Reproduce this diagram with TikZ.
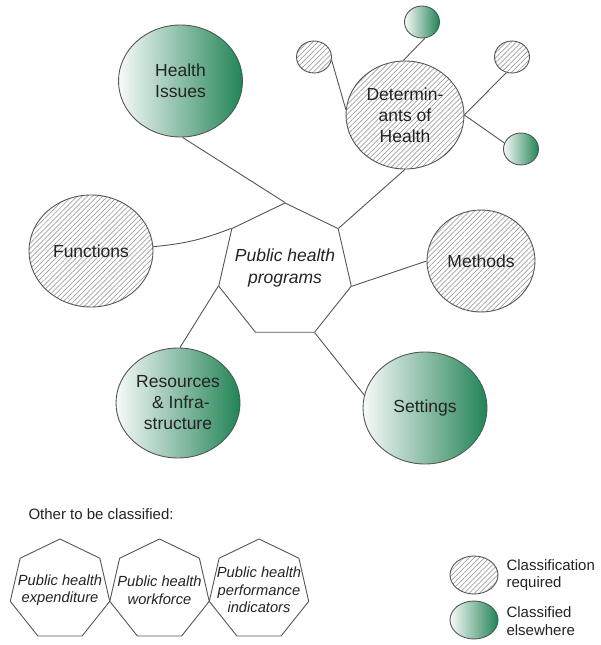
\documentclass[tikz,border=0pt]{standalone}
\usepackage{fontspec}
\setmainfont{Liberation Sans}
\usetikzlibrary{shapes.geometric,patterns.meta}

\definecolor{phgreen}{RGB}{34,132,86}
\definecolor{edgegray}{RGB}{85,85,85}
\definecolor{textgray}{RGB}{35,35,35}

\tikzset{
  blob/.style={ellipse, draw=edgegray, line width=0.9pt, inner sep=0pt, text=textgray, align=center, font=\fontsize{17.5}{21}\selectfont},
  hatched/.style={pattern={Lines[angle=45,distance=3.6pt,line width=0.7pt]}, pattern color=gray!75},
  greenfill/.style={left color=phgreen!4, right color=phgreen},
  bigblob/.style={blob, minimum width=124pt, minimum height=112pt},
  tinyblob/.style={blob, minimum width=35pt, minimum height=32pt},
  keyblob/.style={blob, minimum width=48pt, minimum height=38pt},
  hept/.style={regular polygon, regular polygon sides=7, draw=edgegray, line width=0.9pt, inner sep=0pt},
  hepttext/.style={text=textgray, align=center, font=\itshape\fontsize{14.7}{17.5}\selectfont},
  conn/.style={draw=edgegray, line width=0.9pt},
}

\begin{document}
\begin{tikzpicture}[x=1pt, y=-1pt]
\useasboundingbox (0,0) rectangle (600,645);

% centre
\node[hept, minimum size=136pt] (prog) at (285,271) {};
\node[hepttext, font=\itshape\fontsize{17.5}{22}\selectfont] (progtxt) at (285,268) {Public health\\programs};

% classes round the centre
\node[bigblob, greenfill] (issues) at (180.5,81) {Health\\Issues};
\node[bigblob, hatched, minimum width=118pt, minimum height=108pt] (det) at (405,115) {Determin-\\ants of\\Health};
\node[bigblob, hatched] (functions) at (91,251) {Functions};
\node[bigblob, hatched, minimum width=108pt, minimum height=102pt] (methods) at (481,261) {Methods};
\node[bigblob, greenfill] (settings) at (425,408) {Settings};
\node[bigblob, greenfill, minimum height=110pt] (resources) at (178,403) {Resources\\\,\,\& Infra-\\structure};

% sub-classes of determinants
\node[tinyblob, hatched] (detA) at (314,57) {};
\node[tinyblob, greenfill] (detB) at (422,22) {};
\node[tinyblob, hatched] (detC) at (512,57) {};
\node[tinyblob, greenfill] (detD) at (521,149) {};

\draw[conn] (issues.-88) -- (prog.corner 1);
\draw[conn] (functions.4) to[bend right=8] (prog.corner 2);
\draw[conn] (det.-90) -- (prog.corner 7);
\draw[conn] (prog.corner 6) -- (methods.180);
\draw[conn] (prog.corner 5) -- (settings.168);
\draw[conn] (prog.corner 3) -- (resources.88);

\draw[conn] (detA.-10) -- (det.175);
\draw[conn] (detB.-80) -- (det.92);
\draw[conn] (detC.-110) -- (det.0);
\draw[conn] (det.0) -- (detD.160);

% not yet classified
\node[anchor=west, text=textgray, font=\fontsize{15}{18}\selectfont] (other) at (25,514) {Other to be classified:};
\node[hept, minimum size=102pt] (expend) at (60,590) {};
\node[hept, minimum size=102pt] (workforce) at (159.5,590) {};
\node[hept, minimum size=102pt] (perform) at (259,590) {};
\node[hepttext] (expendtxt) at (expend) {Public health\\expenditure};
\node[hepttext] (workforcetxt) at (workforce) {Public health\\workforce};
\node[hepttext] (performtxt) at (perform) {Public health\\performance\\indicators};

% legend
\node[keyblob, hatched] (keyreq) at (474,575) {};
\node[keyblob, greenfill] (keyels) at (474,620) {};
\node[anchor=west, align=left, text=textgray, font=\fontsize{15}{17.5}\selectfont] (keyreqtxt) at (503,575) {Classification\\required};
\node[anchor=west, align=left, text=textgray, font=\fontsize{15}{17.5}\selectfont] (keyelstxt) at (503,621) {Classified\\elsewhere};
\end{tikzpicture}
\end{document}
